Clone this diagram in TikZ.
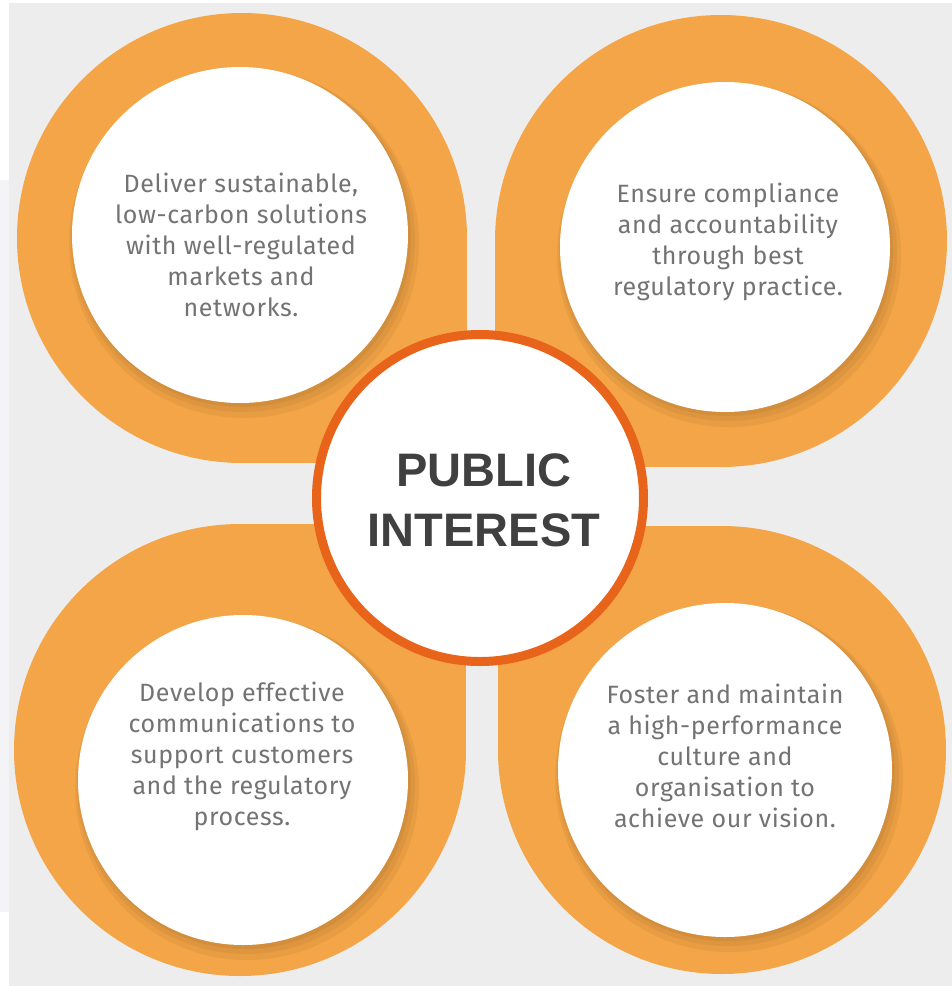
\documentclass[tikz,border=0pt]{standalone}
\usepackage{fontspec}
\newfontfamily\bodyf[LetterSpace=2.5]{Fira Sans}
\newfontfamily\headf{Liberation Sans}
\definecolor{bggray}{HTML}{EDEDED}
\definecolor{leftstrip}{HTML}{F4F4F6}
\definecolor{petal}{HTML}{F4A547}
\definecolor{ring}{HTML}{E8641B}
\definecolor{txtgray}{HTML}{737373}
\definecolor{headgray}{HTML}{404040}
\begin{document}
\begin{tikzpicture}[x=1pt,y=-1pt,
  petalfill/.style={fill=petal},
  innerdisc/.style={circle,fill=white,inner sep=0pt},
  shadowdisc/.style={fill=black!60!petal,opacity=0.08},
  smalltext/.style={align=center,text=txtgray,font=\bodyf\fontsize{25}{31}\selectfont},
  bigtext/.style={align=center,text=headgray,font=\headf\bfseries\fontsize{47}{60}\selectfont},
  centerdisc/.style={circle,fill=white,draw=ring,line width=9pt,minimum size=327pt,inner sep=0pt}]
% background
\fill[white] (0,0) rectangle (952,986);
\fill[bggray] (9,3) rectangle (952,986);
\fill[leftstrip] (0,180) rectangle (9,912);
\useasboundingbox (0,0) rectangle (952,986);
% petals
\fill[petalfill] (242,238) circle (225);
\fill[petalfill] (242,238) rectangle (467,463);
\fill[petalfill] (721,241) circle (226);
\fill[petalfill] (495,241) rectangle (721,467);
\fill[petalfill] (240,750) circle (226);
\fill[petalfill] (240,524) rectangle (466,750);
\fill[petalfill] (722,750) circle (224);
\fill[petalfill] (498,526) rectangle (722,750);
% shadows of inner discs
\foreach \cx/\cy/\r in {240/235/168, 725/247/165, 243/780/165, 725/770/167}{
  \fill[shadowdisc] (\cx+4,\cy+8) circle (\r+7);
  \fill[shadowdisc] (\cx+3,\cy+5) circle (\r+4);
  \fill[shadowdisc] (\cx+2,\cy+3) circle (\r+1);
}
% inner discs
\node[innerdisc,minimum size=336pt] (dtl) at (240,235) {};
\node[innerdisc,minimum size=330pt] (dtr) at (725,247) {};
\node[innerdisc,minimum size=330pt] (dbl) at (243,780) {};
\node[innerdisc,minimum size=334pt] (dbr) at (725,770) {};
% centre
\node[centerdisc] (pc) at (480,498) {};
\node[bigtext] (pt) at (484,500) {PUBLIC\\INTEREST};
% texts
\node[smalltext] (ttl) at (241,245) {Deliver sustainable,\\low-carbon solutions\\with well-regulated\\markets and\\networks.};
\node[smalltext] (ttr) at (728,242) {Ensure compliance\\and accountability\\through best\\regulatory practice.};
\node[smalltext] (tbl) at (242,756) {Develop effective\\communications to\\support customers\\and the regulatory\\process.};
\node[smalltext] (tbr) at (725,756) {Foster and maintain\\a high-performance\\culture and\\organisation to\\achieve our vision.};
\end{tikzpicture}
\end{document}
